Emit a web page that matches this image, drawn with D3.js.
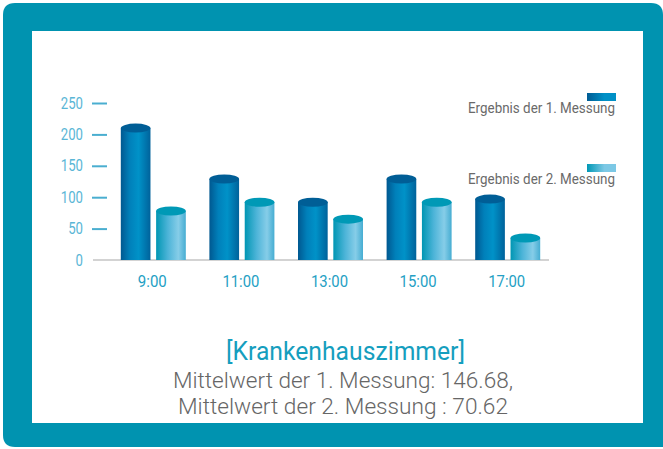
<!DOCTYPE html>
<html><head><meta charset="utf-8">
<script src="https://cdn.jsdelivr.net/npm/d3@7"></script>
<style>
html,body{margin:0;padding:0;background:#fff;}
svg{display:block;}
</style></head>
<body>
<svg id="c" width="663" height="449"></svg>
<script>
const categories = ["9:00", "11:00", "13:00", "15:00", "17:00"];
const series1 = [210, 129, 92, 129, 97];
const series2 = [78, 92, 65, 92, 35];
const seriesNames = ["Ergebnis der 1. Messung", "Ergebnis der 2. Messung"];
const yTicks = [0, 50, 100, 150, 200, 250];
const title = "[Krankenhauszimmer]";
const subtitle = ["Mittelwert der 1. Messung: 146.68,", "Mittelwert der 2. Messung : 70.62"];

const FONT = "Roboto,sans-serif";
const svg = d3.select("#c");

// frame
const r = 12, x0 = 3, y0 = 3, x1 = 663, y1 = 447;
svg.append("path")
  .attr("d", `M${x0+r},${y0} H${x1-r} Q${x1},${y0} ${x1},${y0+r} V${y1} H${x0+r} Q${x0},${y1} ${x0},${y1-r} V${y0+r} Q${x0},${y0} ${x0+r},${y0} Z`)
  .attr("fill", "#0093B0");
svg.append("rect").attr("x", 32).attr("y", 31).attr("width", 611).attr("height", 392).attr("fill", "#fff");

const defs = svg.append("defs");
const g1 = defs.append("linearGradient").attr("id", "g1").attr("x1", 0).attr("x2", 1).attr("y1", 0).attr("y2", 0);
[[0, "#005890"], [0.3, "#0080BA"], [0.6, "#0092C8"], [1, "#00629B"]].forEach(s => g1.append("stop").attr("offset", s[0]).attr("stop-color", s[1]));
const g2 = defs.append("linearGradient").attr("id", "g2").attr("x1", 0).attr("x2", 1).attr("y1", 0).attr("y2", 0);
[[0, "#0096B3"], [0.4, "#4DB4D8"], [0.75, "#86CDE8"], [1, "#46ADD2"]].forEach(s => g2.append("stop").attr("offset", s[0]).attr("stop-color", s[1]));
const lg1 = defs.append("linearGradient").attr("id", "lg1").attr("x1", 0).attr("x2", 1);
[[0, "#005C94"], [0.6, "#0090C6"], [1, "#0090C6"]].forEach(s => lg1.append("stop").attr("offset", s[0]).attr("stop-color", s[1]));
const lg2 = defs.append("linearGradient").attr("id", "lg2").attr("x1", 0).attr("x2", 1);
[[0, "#0098B5"], [0.6, "#7CC8E5"], [1, "#7CC8E5"]].forEach(s => lg2.append("stop").attr("offset", s[0]).attr("stop-color", s[1]));

const y = d3.scaleLinear().domain([0, 250]).range([260, 103]);
const x = d3.scaleBand().domain(categories).range([108, 551]).padding(0);
const inner = d3.scaleBand().domain([0, 1]).range([-31.5, 33.5]).paddingInner(0.16);

// baseline
svg.append("line").attr("x1", 93).attr("x2", 549).attr("y1", y(0)).attr("y2", y(0))
  .attr("stroke", "#A8A8A8").attr("stroke-width", 1.2);

// y axis
const yAxis = svg.append("g").attr("transform", "translate(107,0)")
  .call(d3.axisLeft(y).tickValues(yTicks).tickSize(15).tickPadding(9).tickFormat(d3.format("d")));
yAxis.select(".domain").remove();
yAxis.selectAll(".tick line").attr("stroke", "#4AAED0").attr("stroke-width", 2)
  .filter(d => d === 0).remove();
yAxis.selectAll(".tick text").attr("fill", "#5AB6D6").attr("font-family", FONT).attr("font-size", 16)
  .attr("textLength", d => String(d).length * 7.4).attr("lengthAdjust", "spacingAndGlyphs");

// x axis
const xAxis = svg.append("g").attr("transform", `translate(0,${y(0)})`)
  .call(d3.axisBottom(x).tickSize(0).tickPadding(15));
xAxis.select(".domain").remove();
xAxis.selectAll(".tick text").attr("fill", "#259FC4").attr("font-family", FONT).attr("font-size", 16.5)
  .attr("textLength", d => d.length === 4 ? 29 : 37).attr("lengthAdjust", "spacingAndGlyphs");

// bars
const data = [];
categories.forEach((c, i) => {
  data.push({c, s: 0, v: series1[i]});
  data.push({c, s: 1, v: series2[i]});
});
const bw = inner.bandwidth();
const bars = svg.append("g").selectAll("g").data(data).join("g")
  .attr("transform", d => `translate(${x(d.c) + x.bandwidth() / 2 + inner(d.s)},0)`);
bars.append("rect").attr("x", 0).attr("width", bw)
  .attr("y", d => y(d.v)).attr("height", d => y(0) - y(d.v))
  .attr("fill", d => d.s === 0 ? "url(#g1)" : "url(#g2)");
bars.append("ellipse").attr("cx", bw / 2).attr("cy", d => y(d.v)).attr("rx", bw / 2).attr("ry", 4.5)
  .attr("fill", d => d.s === 0 ? "#005E96" : "#0099B6");

// legend
const legY = [93, 164];
seriesNames.forEach((n, i) => {
  svg.append("rect").attr("x", 587).attr("y", legY[i]).attr("width", 29).attr("height", 8)
    .attr("fill", i === 0 ? "url(#lg1)" : "url(#lg2)");
  svg.append("text").attr("x", 615).attr("y", legY[i] + 20).attr("text-anchor", "end")
    .attr("font-family", FONT).attr("font-size", 15).attr("fill", "#6A6A6A")
    .attr("textLength", 147).attr("lengthAdjust", "spacingAndGlyphs").text(n);
});

// title
svg.append("text").attr("x", 345.5).attr("y", 360).attr("text-anchor", "middle")
  .attr("font-family", FONT).attr("font-size", 25).attr("fill", "#159EBE")
  .attr("textLength", 239).attr("lengthAdjust", "spacingAndGlyphs").text(title);
const subX = [343, 343], subY = [388, 414], subW = [340, 330];
subtitle.forEach((t, i) => {
  svg.append("text").attr("x", subX[i]).attr("y", subY[i]).attr("text-anchor", "middle")
    .attr("font-family", FONT).attr("font-weight", 300).attr("font-size", 22).attr("fill", "#666")
    .attr("textLength", subW[i]).attr("lengthAdjust", "spacingAndGlyphs").text(t);
});
</script>
</body></html>
